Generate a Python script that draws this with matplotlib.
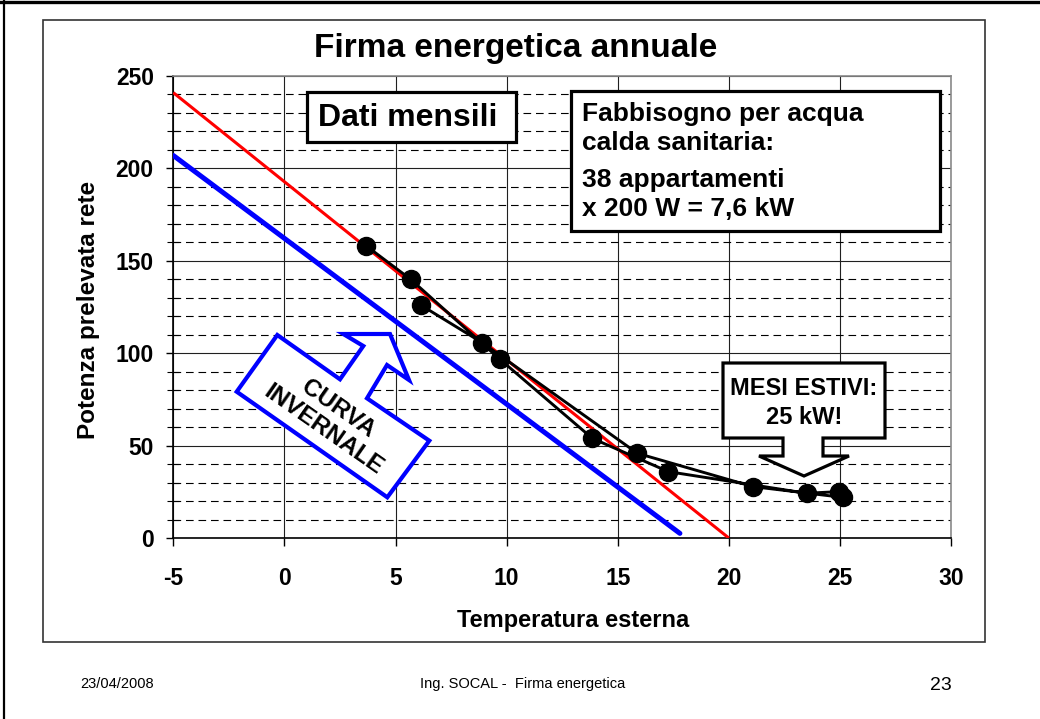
import matplotlib
matplotlib.use('Agg')
import matplotlib.pyplot as plt
from matplotlib.patches import Polygon, Rectangle
from matplotlib.transforms import Affine2D
from matplotlib.lines import Line2D
from matplotlib.ticker import MultipleLocator

plt.rcParams['font.family'] = ['Liberation Sans', 'DejaVu Sans']
plt.rcParams['font.weight'] = 'bold'
plt.rcParams['lines.scale_dashes'] = False

W, H = 1040, 719

# ---------------- data ----------------
title = "Firma energetica annuale"
xlabel = "Temperatura esterna"
ylabel = "Potenza prelevata rete"
xticks = [-5, 0, 5, 10, 15, 20, 25, 30]
yticks = [0, 50, 100, 150, 200, 250]

# monthly points (Jan .. Dec): outside temperature, power drawn from grid
temp_month = [3.69, 5.68, 9.70, 13.86, 17.28, 23.5, 24.94, 25.12, 21.09, 15.89, 8.90, 6.13]
power_month = [158.0, 140.0, 96.7, 53.9, 35.9, 24.2, 25.1, 22.0, 27.8, 45.8, 105.7, 126.1]

# regression lines
red_x = [-5, 20]
red_y = [241, 0]
blue_x = [-5, 17.8]
blue_y = [207, 2.5]

box_dati = "Dati mensili"
box_fabb = ["Fabbisogno per acqua", "calda sanitaria:", "38 appartamenti", "x 200 W = 7,6 kW"]
box_estivi = ["MESI ESTIVI:", "25 kW!"]
box_curva = "CURVA\nINVERNALE"
footer_date = "23/04/2008"
footer_mid = "Ing. SOCAL -  Firma energetica"
footer_page = "23"

# ---------------- figure ----------------
fig = plt.figure(figsize=(W / 100, H / 100), dpi=100)
fig.patch.set_facecolor('white')
tr = Affine2D().scale(1 / W, -1 / H).translate(0, 1) + fig.transFigure

L, R, T, B = 173.3, 951, 76, 538
ax = fig.add_axes([L / W, 1 - B / H, (R - L) / W, (B - T) / H])
ax.set_xlim(-5, 30)
ax.set_ylim(0, 250)
ax.set_xticks(xticks)
ax.set_yticks(yticks)
ax.yaxis.set_minor_locator(MultipleLocator(10))
ax.set_xticklabels([str(v) for v in xticks])
ax.set_yticklabels([str(v) for v in yticks])

ax.grid(which='major', axis='both', color='#202020', lw=0.8)
ax.grid(which='minor', axis='y', color='black', lw=0.8, linestyle=(0, (5.5, 3.5)))

for s in ['left', 'bottom']:
    ax.spines[s].set_color('black')
    ax.spines[s].set_linewidth(1.2)
for s in ['top', 'right']:
    ax.spines[s].set_color('#8a8a8a')
    ax.spines[s].set_linewidth(1.2)

ax.tick_params(axis='x', which='major', direction='out', length=6, width=1, pad=15, labelsize=16.5, colors='black')
ax.tick_params(axis='y', which='major', direction='out', length=5, width=1, pad=9, labelsize=16.5, colors='black')
ax.tick_params(axis='y', which='minor', direction='inout', length=9, width=0.8)

ax.plot(red_x, red_y, color='#FF0000', lw=2.2, zorder=3, solid_capstyle='butt')
ax.plot(blue_x, blue_y, color='#0000FF', lw=3.6, zorder=3, solid_capstyle='round')
ax.plot(temp_month, power_month, color='black', lw=2.1, marker='o', ms=13,
        mfc='black', mec='black', zorder=4, clip_on=False)

# ---------------- slide decorations ----------------
fig.add_artist(Line2D([0, W], [1.5, 1.5], transform=tr, color='black', lw=2.4))
fig.add_artist(Line2D([3.5, 3.5], [0, H], transform=tr, color='black', lw=1.6))
fig.add_artist(Rectangle((43, 20), 942, 622, transform=tr, fill=False, ec='#333333', lw=1.2, zorder=1))

fig.text(516, 57, title, transform=tr, ha='center', va='baseline', fontsize=24, weight='bold')
fig.text(88, 310, ylabel, transform=tr, ha='center', va='center', rotation=90, fontsize=17.5, weight='bold')
fig.text(573, 620, xlabel, transform=tr, ha='center', va='center', fontsize=17, weight='bold')

# Dati mensili box
fig.add_artist(Rectangle((307, 92), 209, 50, transform=tr, fc='white', ec='black', lw=2.3, zorder=5))
fig.text(408, 126, box_dati, transform=tr, ha='center', va='baseline', fontsize=23, weight='bold', zorder=6)

# Fabbisogno box
fig.add_artist(Rectangle((571, 91), 369, 140, transform=tr, fc='white', ec='black', lw=2.3, zorder=5))
for line, yb in zip(box_fabb, [121, 150, 186.5, 216.5]):
    fig.text(582, yb, line, transform=tr, ha='left', va='baseline', fontsize=19, weight='bold', zorder=6)

# MESI ESTIVI callout
callout = [(723, 363), (885, 363), (885, 438), (823, 438), (823, 456), (849, 456), (804, 476),
           (759, 456), (783, 456), (783, 438), (723, 438)]
fig.add_artist(Polygon(callout, closed=True, transform=tr, fc='white', ec='black', lw=2.3, zorder=5,
                       joinstyle='miter'))
fig.text(804, 395, box_estivi[0], transform=tr, ha='center', va='baseline', fontsize=17, weight='bold', zorder=6)
fig.text(804, 424, box_estivi[1], transform=tr, ha='center', va='baseline', fontsize=17, weight='bold', zorder=6)

# CURVA INVERNALE arrow
arrow = [(236.7, 391.7), (277.3, 335), (340, 379.3), (363.3, 346), (343.3, 334), (390, 334),
         (409, 380), (387, 365), (367, 398.3), (429.3, 440.7), (387.3, 497.3)]
fig.add_artist(Polygon(arrow, closed=True, transform=tr, fc='white', ec='#0000FF', lw=3.0, zorder=5,
                       joinstyle='miter'))
fig.text(331, 419, box_curva, transform=tr, ha='center', va='center', rotation=-35, rotation_mode='anchor',
         multialignment='center', linespacing=1.15, fontsize=17.5, weight='bold', zorder=6)

# footer
fig.text(80, 688, footer_date, transform=tr, ha='left', va='baseline', fontsize=10.5, weight='normal')
fig.text(523, 688, footer_mid, transform=tr, ha='center', va='baseline', fontsize=10.5, weight='normal')
fig.text(930, 690, footer_page, transform=tr, ha='left', va='baseline', fontsize=14, weight='normal')

fig.savefig('out.png', dpi=100, facecolor='white')
